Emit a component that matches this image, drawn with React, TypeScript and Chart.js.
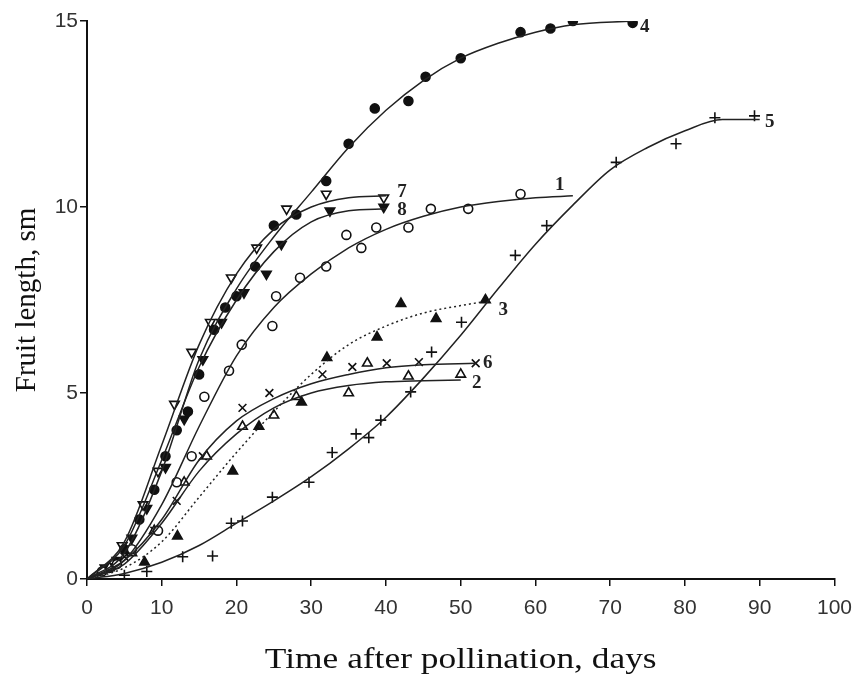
import React, { useEffect, useRef } from "react";
import { Chart, registerables } from "chart.js";
Chart.register(...registerables);

// ---------- Axis ticks ----------
const xTickStep = 10;
const xMin = 0;
const xMax = 100;
const yTickStep = 5;
const yMin = 0;
const yMax = 15;
const xTitle = "Time after pollination, days";
const yTitle = "Fruit length, sm";

// ---------- Fitted curves (days, fruit length) ----------
const fit1Days = [0, 5, 10, 15, 20, 25, 30, 35, 40, 45, 50, 55, 60, 65];
const fit1Vals = [0, 0.5, 2.0, 4.1, 6.0, 7.3, 8.2, 8.9, 9.4, 9.75, 10.0, 10.15, 10.25, 10.3];
const fit2Days = [0, 5, 10, 15, 20, 25, 30, 35, 40, 45, 50];
const fit2Vals = [0, 0.4, 1.5, 2.9, 3.9, 4.6, 5.0, 5.2, 5.3, 5.33, 5.35];
const fit3Days = [0, 5, 10, 15, 20, 25, 30, 35, 40, 45, 50, 53];
const fit3Vals = [0, 0.3, 1.0, 2.2, 3.4, 4.5, 5.5, 6.3, 6.8, 7.15, 7.35, 7.45];
const fit4Days = [0, 5, 10, 15, 20, 25, 30, 35, 40, 45, 50, 55, 60, 65, 73];
const fit4Vals = [0, 0.7, 2.9, 5.9, 7.8, 9.2, 10.4, 11.6, 12.6, 13.4, 14.0, 14.4, 14.7, 14.9, 15.0];
const fit5Days = [0, 5, 10, 15, 20, 25, 30, 35, 40, 45, 50, 55, 60, 65, 70, 75, 80, 85, 90];
const fit5Vals = [0, 0.15, 0.45, 0.9, 1.5, 2.1, 2.75, 3.5, 4.35, 5.4, 6.55, 7.8, 9.0, 10.05, 11.0, 11.6, 12.05, 12.35, 12.35];
const fit6Days = [0, 5, 10, 15, 20, 25, 30, 35, 40, 45, 52];
const fit6Vals = [0, 0.5, 1.6, 3.2, 4.25, 4.85, 5.25, 5.5, 5.68, 5.76, 5.8];
const fit7Days = [0, 5, 10, 15, 20, 25, 30, 35, 40];
const fit7Vals = [0, 1.0, 3.6, 6.3, 8.2, 9.4, 10.0, 10.25, 10.3];
const fit8Days = [0, 5, 10, 15, 20, 25, 30, 35, 40];
const fit8Vals = [0, 0.9, 3.2, 5.7, 7.5, 8.8, 9.6, 9.9, 9.95];

// ---------- Observed points ----------
const obs1Days = [2, 4, 6, 9.5, 12, 14, 15.7, 19, 20.7, 24.8, 25.3, 28.5, 32, 34.7, 36.7, 38.7, 43, 46, 51, 58];
const obs1Vals = [0.2, 0.4, 0.8, 1.3, 2.6, 3.3, 4.9, 5.6, 6.3, 6.8, 7.6, 8.1, 8.4, 9.25, 8.9, 9.45, 9.45, 9.95, 9.95, 10.35];
const obs2Days = [3, 6, 9, 13, 16, 20.8, 25, 28, 35, 37.5, 43, 50];
const obs2Vals = [0.3, 0.7, 1.3, 2.6, 3.3, 4.1, 4.4, 4.9, 5.0, 5.8, 5.45, 5.5];
const obs3Days = [7.7, 12.1, 19.5, 23, 28.7, 32.1, 38.8, 42, 46.7, 53.3];
const obs3Vals = [0.45, 1.15, 2.9, 4.1, 4.75, 5.95, 6.5, 7.4, 7.0, 7.5];
const obs4Days = [3, 5, 7, 9, 10.5, 12, 13.5, 15, 17, 18.5, 20, 22.5, 25, 28, 32, 35, 38.5, 43, 45.3, 50, 58, 62, 65, 73];
const obs4Vals = [0.3, 0.8, 1.6, 2.4, 3.3, 4.0, 4.5, 5.5, 6.7, 7.3, 7.6, 8.4, 9.5, 9.8, 10.7, 11.7, 12.65, 12.85, 13.5, 14.0, 14.7, 14.8, 15.0, 14.95];
const obs5Days = [5, 8, 12.8, 16.8, 19.3, 20.8, 24.8, 29.7, 32.8, 36, 37.7, 39.3, 43.3, 46.1, 50.1, 57.3, 61.5, 70.8, 78.8, 84, 89.3];
const obs5Vals = [0.1, 0.2, 0.6, 0.62, 1.5, 1.56, 2.2, 2.6, 3.4, 3.9, 3.8, 4.27, 5.03, 6.1, 6.9, 8.7, 9.5, 11.2, 11.7, 12.4, 12.45];
const obs6Days = [5, 9, 12, 15.5, 20.8, 24.4, 31.5, 35.5, 40.1, 44.4, 52];
const obs6Vals = [0.6, 1.3, 2.1, 3.3, 4.6, 5.0, 5.5, 5.7, 5.8, 5.83, 5.8];
const obs7Days = [2.4, 4.7, 7.5, 9.5, 11.7, 14, 16.5, 19.3, 22.7, 26.7, 32, 39.7];
const obs7Vals = [0.3, 0.9, 2.0, 2.9, 4.7, 6.1, 6.9, 8.1, 8.9, 9.95, 10.35, 10.25];
const obs8Days = [4, 6, 8, 10.5, 13, 15.5, 18, 21, 24, 26, 32.5, 39.7];
const obs8Vals = [0.5, 1.1, 1.9, 3.0, 4.3, 5.9, 6.9, 7.7, 8.2, 9.0, 9.9, 10.0];

const curveNames = ["1", "2", "3", "4", "5", "6", "7", "8"];

const SANS = "'Liberation Sans', Arial, sans-serif";
const SERIF = "'Liberation Serif', 'Times New Roman', serif";

type Series = {
  name: string;
  fx: number[];
  fy: number[];
  ox: number[];
  oy: number[];
  marker: string;
  fill: string;
  rot: number;
  dash: number[];
  off: [number, number];
};

const series: Series[] = [
  { name: curveNames[0], fx: fit1Days, fy: fit1Vals, ox: obs1Days, oy: obs1Vals, marker: "circle", fill: "#ffffff", rot: 0, dash: [], off: [-13, -11] },
  { name: curveNames[1], fx: fit2Days, fy: fit2Vals, ox: obs2Days, oy: obs2Vals, marker: "triangle", fill: "#ffffff", rot: 0, dash: [], off: [16, 3] },
  { name: curveNames[2], fx: fit3Days, fy: fit3Vals, ox: obs3Days, oy: obs3Vals, marker: "triangle", fill: "#111111", rot: 0, dash: [2, 3], off: [20, 8] },
  { name: curveNames[3], fx: fit4Days, fy: fit4Vals, ox: obs4Days, oy: obs4Vals, marker: "circle", fill: "#111111", rot: 0, dash: [], off: [12, 6] },
  { name: curveNames[4], fx: fit5Days, fy: fit5Vals, ox: obs5Days, oy: obs5Vals, marker: "cross", fill: "#111111", rot: 0, dash: [], off: [10, 3] },
  { name: curveNames[5], fx: fit6Days, fy: fit6Vals, ox: obs6Days, oy: obs6Vals, marker: "crossRot", fill: "#111111", rot: 0, dash: [], off: [12, 0] },
  { name: curveNames[6], fx: fit7Days, fy: fit7Vals, ox: obs7Days, oy: obs7Vals, marker: "triangle", fill: "#ffffff", rot: 180, dash: [], off: [16, -4] },
  { name: curveNames[7], fx: fit8Days, fy: fit8Vals, ox: obs8Days, oy: obs8Vals, marker: "triangle", fill: "#111111", rot: 180, dash: [], off: [16, 1] },
];

const endLabels = {
  id: "endLabels",
  afterDatasetsDraw(chart: any) {
    const { ctx, scales } = chart;
    const xs = scales.x;
    const ys = scales.y;
    ctx.save();
    ctx.font = "bold 19px " + SERIF;
    ctx.fillStyle = "#222";
    ctx.textAlign = "center";
    ctx.textBaseline = "middle";
    for (const s of series) {
      const px = xs.getPixelForValue(s.fx[s.fx.length - 1]) + s.off[0];
      const py = ys.getPixelForValue(s.fy[s.fy.length - 1]) + s.off[1];
      ctx.fillText(s.name, px, py);
    }
    ctx.restore();
  },
};

// x-axis title, drawn slightly widened like the source figure
const xTitlePlugin = {
  id: "xTitlePlugin",
  afterDraw(chart: any) {
    const { ctx, chartArea } = chart;
    const cx = (chartArea.left + chartArea.right) / 2;
    const cy = chartArea.bottom + 81;
    ctx.save();
    ctx.translate(cx, cy);
    ctx.scale(1.22, 1);
    ctx.font = "29px " + SERIF;
    ctx.fillStyle = "#111";
    ctx.textAlign = "center";
    ctx.textBaseline = "middle";
    ctx.fillText(xTitle, 0, 0);
    ctx.restore();
  },
};

export default function App() {
  const ref = useRef<HTMLCanvasElement | null>(null);

  useEffect(() => {
    if (!ref.current) return;
    const datasets: any[] = [];
    for (const s of series) {
      datasets.push({
        label: "Fit " + s.name,
        data: s.fx.map((d, i) => ({ x: d, y: s.fy[i] })),
        showLine: true,
        pointRadius: 0,
        borderColor: "#222",
        borderWidth: 1.5,
        borderDash: s.dash,
        cubicInterpolationMode: "monotone",
        fill: false,
      });
    }
    for (const s of series) {
      datasets.push({
        label: "Obs " + s.name,
        data: s.ox.map((d, i) => ({ x: d, y: s.oy[i] })),
        showLine: false,
        pointStyle: s.marker,
        pointRotation: s.rot,
        pointRadius: s.marker === "circle" ? 4.5 : 5.5,
        backgroundColor: s.fill,
        borderColor: "#111",
        borderWidth: 1.6,
      });
    }

    const chart = new Chart(ref.current, {
      type: "scatter",
      data: { datasets },
      options: {
        animation: false,
        responsive: false,
        layout: { padding: { left: 8, top: 21, right: 25, bottom: 0 } },
        plugins: { legend: { display: false }, tooltip: { enabled: false } },
        scales: {
          x: {
            type: "linear",
            min: xMin,
            max: xMax,
            afterFit: (scale: any) => {
              scale.height = 98;
            },
            ticks: {
              stepSize: xTickStep,
              color: "#333",
              font: { family: SANS, size: 21 },
              padding: 10,
              maxRotation: 0,
            },
            grid: {
              display: true,
              drawOnChartArea: false,
              drawTicks: true,
              tickLength: 7,
              color: "#111",
              lineWidth: 1.5,
            },
            border: { display: true, color: "#111", width: 2 },
            title: { display: false, text: xTitle },
          },
          y: {
            type: "linear",
            min: yMin,
            max: yMax,
            afterFit: (scale: any) => {
              scale.width = 79;
            },
            ticks: {
              stepSize: yTickStep,
              color: "#333",
              font: { family: SANS, size: 21 },
              padding: 2,
            },
            grid: {
              display: true,
              drawOnChartArea: false,
              drawTicks: true,
              tickLength: 7,
              color: "#111",
              lineWidth: 1.5,
            },
            border: { display: true, color: "#111", width: 2 },
            title: {
              display: true,
              text: yTitle,
              color: "#111",
              font: { family: SERIF, size: 29 },
              padding: { top: 2, bottom: 0 },
            },
          },
        },
      },
      plugins: [endLabels, xTitlePlugin],
    });

    let alive = true;
    const fonts: any = (document as any).fonts;
    if (fonts && fonts.ready) {
      fonts.ready
        .then(() => {
          if (alive) chart.update();
        })
        .catch(() => {});
    }
    return () => {
      alive = false;
      chart.destroy();
    };
  }, []);

  return (
    <div style={{ position: "absolute", left: 0, top: 0, width: 862, height: 677, background: "#fff" }}>
      <canvas ref={ref} width={862} height={677} style={{ display: "block" }} />
    </div>
  );
}
